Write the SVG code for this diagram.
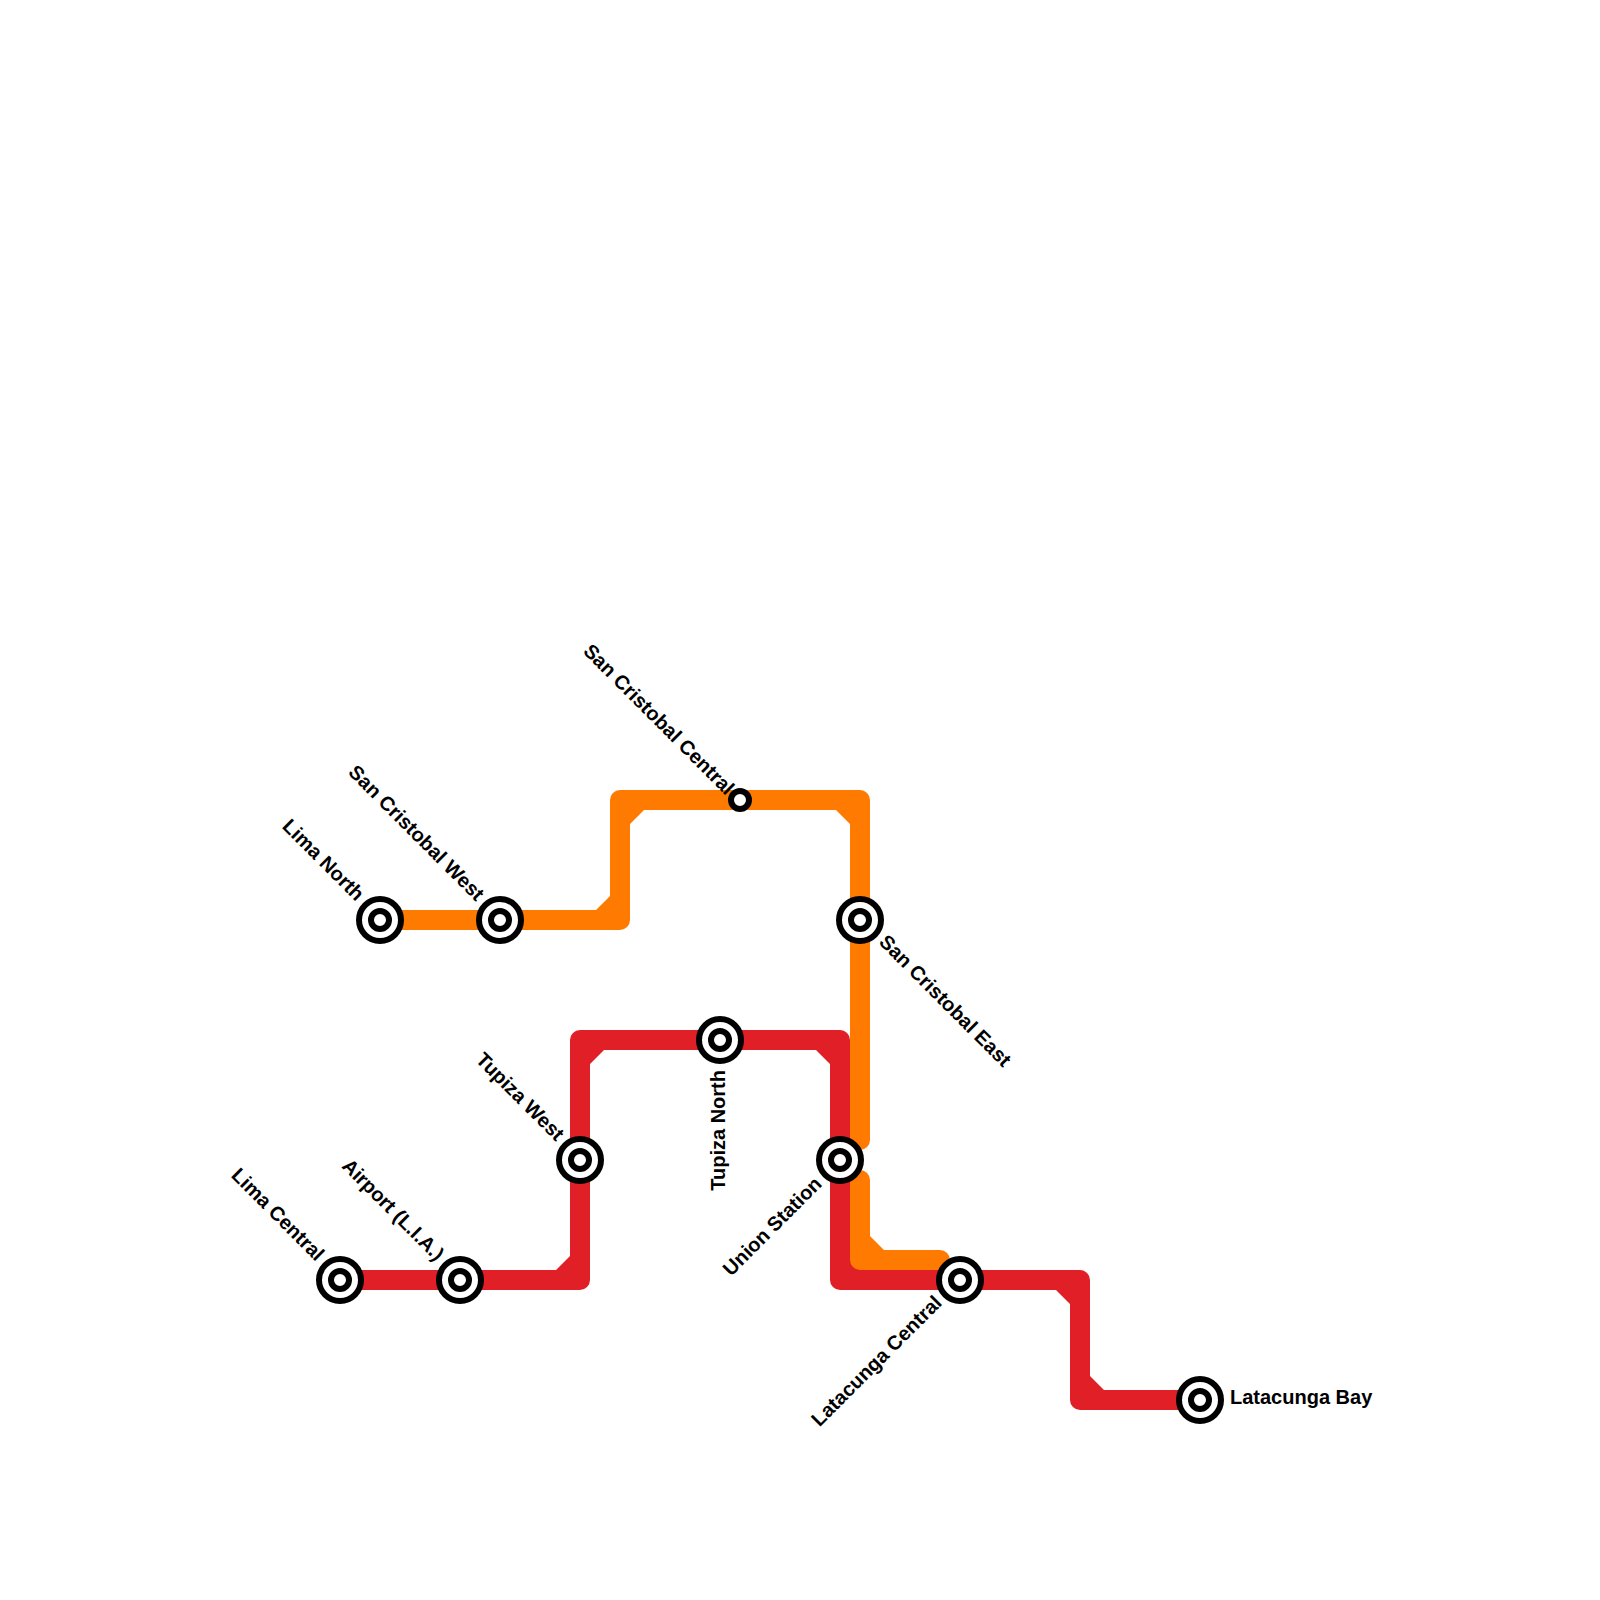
<svg xmlns="http://www.w3.org/2000/svg" width="1600" height="1600" viewBox="0 0 1600 1600">
<style>
.line{fill:none;stroke-width:20;stroke-linejoin:round;stroke-linecap:round}
.red{stroke:#e11f26}.orange{stroke:#ff7a00}
.fr{fill:#e11f26}.fo{fill:#ff7a00}
.ring{fill:#fff;stroke:#000;stroke-width:6}
text{font-family:"Liberation Sans",Arial,sans-serif;font-weight:700;font-size:20px;fill:#000}
.e{text-anchor:end}
</style>
<rect width="1600" height="1600" fill="#fff"/>
<defs>
<g id="int"><circle r="21" class="ring"/><circle r="9" class="ring"/></g>
</defs>
<g id="connectors">
<path class="line red" d="M340 1280H580V1040H840V1280H1080V1400H1200"/>
<path class="fr" d="M556 1270L570 1256V1272H556ZM604 1050L590 1064V1048H604ZM816 1050L830 1064V1048H816ZM850 1270V1256L864 1270V1272H850ZM1056 1290L1070 1304V1288H1056ZM1090 1376L1104 1390V1392H1090Z"/>
<path class="line orange" d="M380 920H620V800H860V1140M860 1180V1260H940"/>
<path class="fo" d="M596 910L610 896V912H596ZM644 810L630 824V808H644ZM836 810L850 824V808H836ZM870 1236L884 1250V1252H870Z"/>
</g>
<g id="lima-central"><use href="#int" x="340" y="1280"/><text class="e" transform="translate(316 1262) rotate(45)">Lima Central</text></g>
<g id="airport"><use href="#int" x="460" y="1280"/><text class="e" transform="translate(436 1262) rotate(45)">Airport (L.I.A.)</text></g>
<g id="lima-north"><use href="#int" x="380" y="920"/><text class="e" transform="translate(356 902) rotate(45)">Lima North</text></g>
<g id="san-cristobal-west"><use href="#int" x="500" y="920"/><text class="e" transform="translate(476 902) rotate(45)">San Cristobal West</text></g>
<g id="san-cristobal-central"><circle cx="740" cy="800" r="9" class="ring"/><text class="e" transform="translate(726 796) rotate(45)">San Cristobal Central</text></g>
<g id="san-cristobal-east"><use href="#int" x="860" y="920"/><text transform="translate(878 943) rotate(45)">San Cristobal East</text></g>
<g id="tupiza-west"><use href="#int" x="580" y="1160"/><text class="e" transform="translate(556 1142) rotate(45)">Tupiza West</text></g>
<g id="tupiza-north"><use href="#int" x="720" y="1040"/><text class="e" transform="translate(725 1070) rotate(-90)">Tupiza North</text></g>
<g id="union-station"><use href="#int" x="840" y="1160"/><text class="e" transform="translate(823 1185) rotate(-45)">Union Station</text></g>
<g id="latacunga-central"><use href="#int" x="960" y="1280"/><text class="e" transform="translate(943 1304) rotate(-45)">Latacunga Central</text></g>
<g id="latacunga-bay"><use href="#int" x="1200" y="1400"/><text x="1230" y="1404">Latacunga Bay</text></g>
</svg>
